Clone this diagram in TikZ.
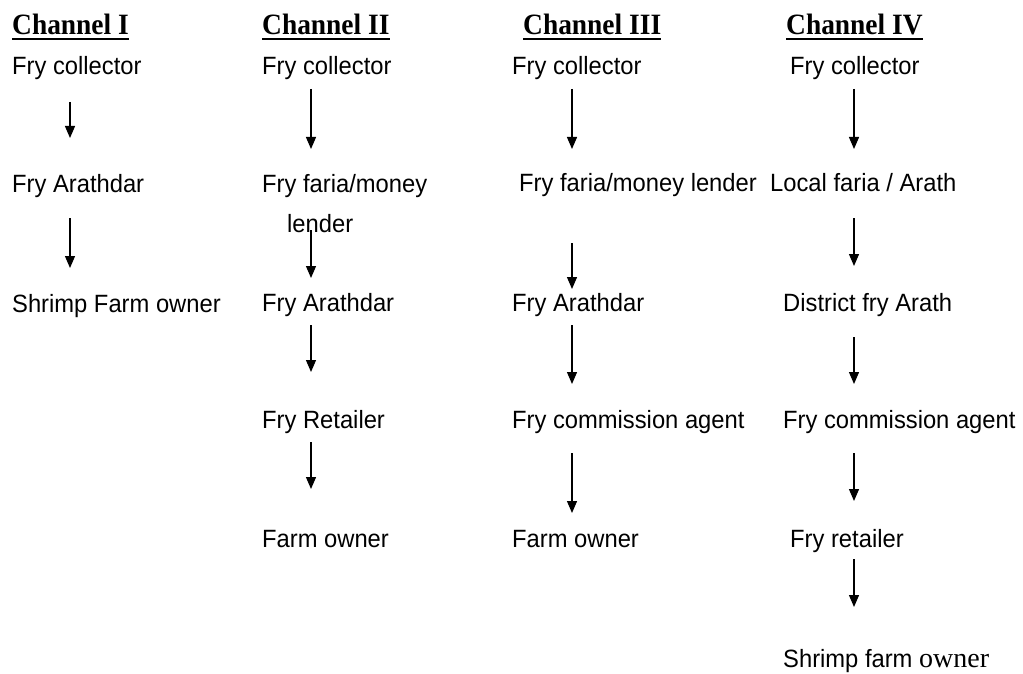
\documentclass[tikz,border=0pt]{standalone}
\usepackage{fontspec}
\setmainfont{Liberation Sans}[FakeStretch=0.95]
\newfontfamily\hdrfont{Liberation Serif}[FakeStretch=0.93]
\newfontfamily\serfont{Liberation Serif}
\usetikzlibrary{arrows.meta}
\begin{document}
\begin{tikzpicture}[x=1pt,y=-1pt,
  lbl/.style={anchor=base west,inner sep=0pt,font=\fontsize{25}{29}\selectfont},
  hdr/.style={anchor=base west,inner sep=0pt,font=\fontsize{29.5}{34}\selectfont\hdrfont\bfseries},
  uline/.style={line width=1.3pt},
  arr/.style={line width=1.3pt,-{Triangle[width=10pt,length=12pt]}}]
\useasboundingbox (0,0) rectangle (1023,674);

% headers
\node[hdr] (h1) at (12,35) {Channel I};
\node[hdr] (h2) at (262,35) {Channel II};
\node[hdr] (h3) at (523,35) {Channel III};
\node[hdr] (h4) at (786,35) {Channel IV};
\foreach \h in {h1,h2,h3,h4}
  \draw[uline] ([yshift=-4pt]\h.base west) -- ([yshift=-4pt]\h.base east);

% channel I
\node[lbl] (a1) at (12,75) {Fry collector};
\node[lbl] (a2) at (12,193) {Fry Arathdar};
\node[lbl] (a3) at (12,312) {Shrimp Farm owner};

% channel II
\node[lbl] (b1) at (262,75) {Fry collector};
\node[lbl] (b2) at (262,193) {Fry faria/money};
\node[lbl] (b2b) at (287,232) {lender};
\node[lbl] (b3) at (262,311) {Fry Arathdar};
\node[lbl] (b4) at (262,428) {Fry Retailer};
\node[lbl] (b5) at (262,547) {Farm owner};

% channel III
\node[lbl] (c1) at (512,75) {Fry collector};
\node[lbl] (c2) at (519,192) {Fry faria/money lender};
\node[lbl] (c3) at (512,311) {Fry Arathdar};
\node[lbl] (c4) at (512,428) {Fry commission agent};
\node[lbl] (c5) at (512,547) {Farm owner};

% channel IV
\node[lbl] (d1) at (790,75) {Fry collector};
\node[lbl] (d2) at (770,192) {Local faria / Arath};
\node[lbl] (d3) at (783,311) {District fry Arath};
\node[lbl] (d4) at (783,428) {Fry commission agent};
\node[lbl] (d5) at (790,547) {Fry retailer};
\node[lbl] (d6) at (783,667) {Shrimp farm {\serfont\fontsize{28}{32}\selectfont owner}};

% arrow end points
\coordinate (a12s) at (70,102);  \coordinate (a12e) at (70,138);
\coordinate (a23s) at (70,218);  \coordinate (a23e) at (70,268);

\coordinate (b12s) at (311,89);  \coordinate (b12e) at (311,149);
\coordinate (b23s) at (311,230); \coordinate (b23e) at (311,278);
\coordinate (b34s) at (311,325); \coordinate (b34e) at (311,372);
\coordinate (b45s) at (311,442); \coordinate (b45e) at (311,489);

\coordinate (c12s) at (572,89);  \coordinate (c12e) at (572,149);
\coordinate (c23s) at (572,243); \coordinate (c23e) at (572,289);
\coordinate (c34s) at (572,325); \coordinate (c34e) at (572,384);
\coordinate (c45s) at (572,453); \coordinate (c45e) at (572,513);

\coordinate (d12s) at (854,89);  \coordinate (d12e) at (854,149);
\coordinate (d23s) at (854,218); \coordinate (d23e) at (854,266);
\coordinate (d34s) at (854,337); \coordinate (d34e) at (854,384);
\coordinate (d45s) at (854,453); \coordinate (d45e) at (854,501);
\coordinate (d56s) at (854,559); \coordinate (d56e) at (854,607);

\foreach \p in {a12,a23,b12,b23,b34,b45,c12,c23,c34,c45,d12,d23,d34,d45,d56}
  \draw[arr] (\p s) -- (\p e);
\end{tikzpicture}
\end{document}
